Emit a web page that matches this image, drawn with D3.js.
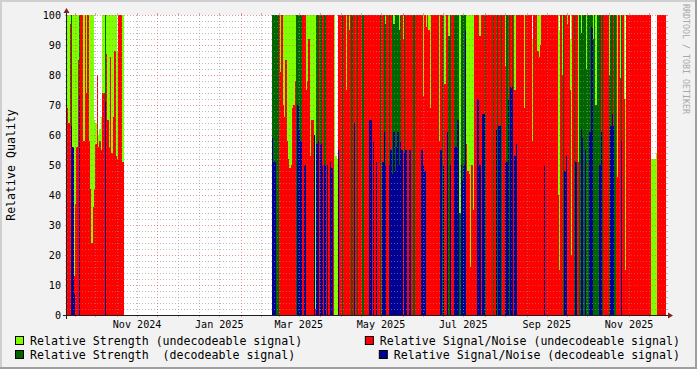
<!DOCTYPE html>
<html>
<head>
<meta charset="utf-8">
<script src="https://cdn.jsdelivr.net/npm/d3@7"></script>
<style>
  body { margin: 0; background: #f2f2f2; }
  svg text { font-family: "DejaVu Sans Mono", monospace; }
</style>
</head>
<body>
<script>
var fullWidth = 697,
    fullHeight = 369,
    plot = {left: 67, right: 666, top: 15, bottom: 315};

// daily averages, two recording periods
var autumnStart = "2024-09-25";
var autumnStrengthUndec = [100,100,100,0,100,100,100,100,100,0,
  100,100,100,100,100,100,100,100,100,100,
  65,64,80,60,62,66,100,100,0,100,
  100,100,100,100,100,100,100,88,100,100,
  100,100];
var autumnSnrUndec = [69,64,97,0,0,13,37,56,85,0,
  100,100,58,100,74,100,58,42,24,36,
  42,57,80,56,58,55,74,74,0,87,
  65,56,86,54,66,88,53,52,100,100,
  100,51];
var autumnStrengthDec = [0,0,0,100,0,0,0,0,0,100,
  0,0,0,0,0,0,0,0,0,0,
  0,0,0,0,0,0,0,0,100,0,
  0,0,0,0,0,0,0,0,0,0,
  0,0];
var autumnSnrDec = [0,0,0,63,56,7,0,0,0,73,
  0,0,0,0,0,0,0,0,0,0,
  0,0,0,0,0,0,0,0,71,0,
  0,0,0,0,0,0,0,0,0,0,
  0,0];

var springStart = "2025-02-24";
var springStrengthUndec = [0,0,0,0,0,100,100,100,100,100,
  100,100,100,100,100,100,100,100,0,0,
  0,0,100,100,0,100,100,100,100,100,
  100,100,100,0,0,0,0,0,0,0,
  0,0,0,0,0,0,100,53,52,0,
  0,0,0,0,0,100,0,100,0,0,
  0,0,0,0,0,0,0,0,0,0,
  0,0,0,0,0,0,0,0,0,0,
  0,0,0,0,100,0,0,0,0,0,
  100,0,0,0,100,0,0,100,0,0,
  0,0,0,0,0,0,0,0,0,0,
  0,0,100,0,100,0,100,100,0,0,
  0,0,0,0,100,0,0,0,100,0,
  0,100,0,0,0,0,0,0,0,100,
  0,0,0,0,100,100,100,100,100,100,
  100,0,0,0,100,0,0,0,0,0,
  0,0,0,0,0,0,0,0,0,0,
  0,0,0,100,0,0,0,0,0,0,
  100,0,0,0,0,0,0,100,0,0,
  0,0,0,92,0,0,0,100,100,100,
  0,0,0,0,0,0,0,0,0,0,
  0,0,100,95,0,100,0,0,0,100,
  0,92,100,0,0,0,0,100,0,100,
  0,0,0,100,0,0,0,0,100,0,
  100,0,0,0,0,0,0,0,0,0,
  100,0,0,0,0,0,100,0,100,0,
  0,100,72,0,0,0,0,0,0,0,
  0,0,0,0,0,0,0,0,0,0,
  0,52,52,52,52,54,0,0,0,0,
  0,0,0];
var springSnrUndec = [0,0,0,0,0,100,81,100,70,66,
  85,58,52,49,50,69,70,78,0,0,
  0,0,100,100,100,75,78,92,53,65,
  65,0,2,0,0,100,0,100,100,0,
  100,100,100,100,100,100,0,0,0,100,
  100,100,0,100,100,75,100,95,100,0,
  100,100,100,0,100,100,100,0,100,100,
  100,100,100,100,100,100,100,100,100,100,
  0,100,100,0,0,100,100,0,100,0,
  0,0,0,0,0,0,100,92,0,100,
  100,100,100,100,100,0,100,100,100,100,
  100,100,73,100,96,100,95,69,100,100,
  100,100,100,100,58,100,0,100,77,100,
  100,0,0,100,100,0,0,0,0,0,
  0,0,0,0,57,48,47,16,50,35,
  100,100,100,100,93,100,100,100,0,100,
  100,100,100,100,0,100,100,0,100,100,
  0,100,100,83,0,100,0,100,0,100,
  75,100,100,100,100,100,100,69,100,100,
  100,100,100,58,100,100,100,88,86,90,
  100,100,100,100,100,100,100,100,100,100,
  100,100,40,15,100,80,0,100,100,97,
  100,75,20,100,0,100,100,51,0,0,
  0,0,0,0,0,0,0,0,0,0,
  0,0,0,0,100,0,100,100,100,100,
  0,0,0,100,0,100,46,100,79,0,
  100,72,15,100,100,100,100,100,100,100,
  100,100,100,100,100,100,100,100,100,100,
  100,0,0,0,0,0,100,100,100,100,
  100,100,100];
var springStrengthDec = [100,100,100,100,100,0,0,0,0,0,
  0,0,0,0,0,0,0,0,100,100,
  100,100,0,0,0,0,0,0,0,0,
  0,0,0,100,100,0,100,0,0,100,
  0,0,0,0,0,0,0,0,0,0,
  0,0,100,0,0,0,0,0,0,100,
  0,0,0,100,0,0,0,100,0,0,
  0,0,0,0,0,0,0,0,0,0,
  100,0,0,100,97,0,0,100,0,100,
  97,100,100,100,95,100,0,0,100,0,
  0,0,0,0,0,100,0,0,0,0,
  0,0,0,0,0,0,0,0,0,0,
  0,0,0,0,0,0,100,0,0,0,
  0,93,100,0,0,100,100,100,100,34,
  100,100,100,100,0,0,0,0,0,0,
  0,0,0,0,0,0,0,0,100,0,
  0,0,0,0,100,0,0,100,0,0,
  100,0,0,0,100,0,100,0,100,0,
  0,0,0,0,0,0,0,0,0,0,
  0,0,0,0,0,0,0,0,0,0,
  0,0,0,0,0,0,0,0,0,0,
  0,0,0,0,0,0,100,0,0,0,
  0,0,0,0,100,0,0,0,100,94,
  100,100,100,82,100,100,100,100,92,100,
  70,100,100,100,0,100,0,0,0,0,
  80,100,100,0,100,0,0,0,0,100,
  0,0,0,0,0,0,0,0,0,0,
  0,0,0,0,0,0,0,0,0,0,
  0,0,0,0,0,0,0,0,0,0,
  0,0,0];
var springSnrDec = [59,51,51,0,0,0,0,0,0,0,
  0,0,0,0,0,0,0,0,0,70,
  62,58,0,0,50,0,0,0,0,0,
  0,60,0,57,58,0,57,50,0,50,
  0,50,0,51,49,0,0,0,0,55,
  0,0,0,0,0,0,0,0,0,0,
  0,64,0,0,0,0,0,0,0,0,
  0,0,65,65,0,58,0,51,0,0,
  0,0,51,61,50,0,0,50,55,47,
  61,48,56,61,50,58,55,0,54,55,
  0,0,55,0,0,0,0,0,0,0,
  0,55,50,48,0,0,0,0,0,0,
  0,0,0,0,0,55,0,50,0,0,
  61,0,50,0,0,56,56,65,65,0,
  50,45,50,95,0,0,0,0,0,0,
  0,0,72,72,50,0,67,67,0,0,
  0,0,0,0,0,0,62,0,63,63,
  0,0,0,51,51,72,0,76,76,0,
  53,57,0,0,0,0,0,0,0,0,
  0,0,0,0,0,0,0,0,0,0,
  0,0,50,0,0,0,0,0,0,0,
  0,0,0,0,0,0,0,48,53,0,
  0,0,0,0,0,51,0,0,0,62,
  59,0,55,0,0,61,61,96,0,0,
  0,0,0,50,61,0,0,0,0,0,
  0,63,67,63,0,0,0,0,0,58,
  0,0,0,0,0,0,0,0,0,0,
  0,0,0,0,0,0,0,0,0,0,
  0,0,0,0,0,0,0,0,0,0,
  0,0,0];

var graphStart = "2024-09-25T00:00:00Z",
    graphEnd   = "2025-12-13T09:36:00Z";

var yTicks = [0, 10, 20, 30, 40, 50, 60, 70, 80, 90, 100];
var xLabelMonths = ["2024-11-01", "2025-01-01", "2025-03-01", "2025-05-01",
                    "2025-07-01", "2025-09-01", "2025-11-01"];
var xLabels = ["Nov 2024", "Jan 2025", "Mar 2025", "May 2025",
               "Jul 2025", "Sep 2025", "Nov 2025"];

var seriesNames = ["Relative Strength (undecodeable signal)",
                   "Relative Signal/Noise (undecodeable signal)",
                   "Relative Strength  (decodeable signal)",
                   "Relative Signal/Noise (decodeable signal)"];
var seriesColors = ["#80ff00", "#ff0000", "#006600", "#000094"];

var DAY = 86400000;
var parseDay = function(s) { return new Date(s + "T00:00:00Z"); };

var xScale = d3.scaleUtc()
  .domain([new Date(graphStart), new Date(graphEnd)])
  .range([plot.left, plot.right]);

var yScale = d3.scaleLinear()
  .domain([0, 100])
  .range([plot.bottom, plot.top]);

// build one row per day and series, in RRD draw order
var periods = [
  {start: autumnStart, series: [autumnStrengthUndec, autumnSnrUndec, autumnStrengthDec, autumnSnrDec]},
  {start: springStart, series: [springStrengthUndec, springSnrUndec, springStrengthDec, springSnrDec]}
];
var layers = seriesColors.map(function(c, k) {
  var rows = [];
  periods.forEach(function(p) {
    var t0 = parseDay(p.start).getTime();
    p.series[k].forEach(function(v, i) {
      if (v > 0) rows.push({d0: new Date(t0 + i * DAY), d1: new Date(t0 + (i + 1) * DAY), v: v});
    });
  });
  return rows;
});

var svg = d3.select("body").append("svg")
  .attr("width", fullWidth)
  .attr("height", fullHeight)
  .style("display", "block");

svg.append("rect")
  .attr("width", fullWidth).attr("height", fullHeight)
  .attr("fill", "#f2f2f2");

// 3d frame
svg.append("path").attr("d", "M0,0H697V2H2V369H0Z").attr("fill", "#cfcfcf");
svg.append("path").attr("d", "M697,0V369H0V367H695V0Z").attr("fill", "#9e9e9e");

svg.append("rect")
  .attr("x", plot.left).attr("y", plot.top)
  .attr("width", plot.right - plot.left).attr("height", plot.bottom - plot.top)
  .attr("fill", "#ffffff");

svg.append("clipPath").attr("id", "plotclip")
  .append("rect")
  .attr("x", plot.left).attr("y", plot.top)
  .attr("width", plot.right - plot.left).attr("height", plot.bottom - plot.top);

var dataG = svg.append("g")
  .attr("clip-path", "url(#plotclip)")
  .attr("shape-rendering", "crispEdges");

layers.forEach(function(rows, k) {
  dataG.append("g")
    .attr("fill", seriesColors[k])
    .selectAll("rect")
    .data(rows)
    .enter().append("rect")
    .attr("x", function(d) { return Math.round(xScale(d.d0)); })
    .attr("width", function(d) { return Math.round(xScale(d.d1)) - Math.round(xScale(d.d0)); })
    .attr("y", function(d) { return Math.round(yScale(d.v)); })
    .attr("height", function(d) { return plot.bottom - Math.round(yScale(d.v)); });
});

// grid on top of the graph
var minorCol = "rgba(143,143,143,0.6)",
    majorCol = "rgba(222,79,79,0.6)";
var gridG = svg.append("g").attr("shape-rendering", "crispEdges");

var hLines = d3.range(0, 101, 2).map(function(v) { return {v: v, major: v % 10 === 0}; });
hLines.forEach(function(h) {
  var y = Math.round(yScale(h.v)) + 0.5,
      c = h.major ? majorCol : minorCol;
  gridG.append("line").attr("x1", plot.left).attr("x2", plot.right).attr("y1", y).attr("y2", y)
    .attr("stroke", c).attr("stroke-dasharray", "1,2");
  gridG.append("line").attr("x1", plot.left - 2).attr("x2", plot.left).attr("y1", y).attr("y2", y).attr("stroke", c);
  gridG.append("line").attr("x1", plot.right).attr("x2", plot.right + 2).attr("y1", y).attr("y2", y).attr("stroke", c);
});

// minor lines on the 1st and 16th, major lines every second month
var d0 = xScale.domain()[0], d1 = xScale.domain()[1];
var halfMonths = d3.utcMonth.range(d0, d1).concat(
  d3.utcMonth.range(d0, d1).map(function(m) { return new Date(m.getTime() + 15 * DAY); })
).filter(function(m) { return m >= d0 && m <= d1 && !(m.getUTCDate() === 1 && m.getUTCMonth() % 2 === 1); });
var majorMonths = d3.utcMonth.range(d0, d1).filter(function(m) { return m.getUTCMonth() % 2 === 1; });

function vLine(date, c) {
  var x = Math.round(xScale(date)) + 0.5;
  gridG.append("line").attr("x1", x).attr("x2", x).attr("y1", plot.top).attr("y2", plot.bottom)
    .attr("stroke", c).attr("stroke-dasharray", "1,2");
  gridG.append("line").attr("x1", x).attr("x2", x).attr("y1", plot.top - 2).attr("y2", plot.top).attr("stroke", c);
  gridG.append("line").attr("x1", x).attr("x2", x).attr("y1", plot.bottom).attr("y2", plot.bottom + 2).attr("stroke", c);
}
halfMonths.forEach(function(w) { vLine(w, minorCol); });
majorMonths.forEach(function(m) { vLine(m, majorCol); });

// axes and arrows
var axisCol = "#1f1f1f", arrowCol = "#801f1f";
svg.append("line").attr("x1", plot.left - 4).attr("x2", plot.right + 4)
  .attr("y1", plot.bottom + 0.5).attr("y2", plot.bottom + 0.5)
  .attr("stroke", axisCol).attr("shape-rendering", "crispEdges");
svg.append("line").attr("x1", plot.left - 0.5).attr("x2", plot.left - 0.5)
  .attr("y1", plot.bottom + 4).attr("y2", plot.top - 4)
  .attr("stroke", axisCol).attr("shape-rendering", "crispEdges");
svg.append("path")
  .attr("d", "M" + (plot.right + 2) + "," + (plot.bottom - 2.5) + "L" + (plot.right + 2) + "," + (plot.bottom + 3.5) +
             "L" + (plot.right + 7) + "," + (plot.bottom + 0.5) + "Z")
  .attr("fill", arrowCol);
svg.append("path")
  .attr("d", "M" + (plot.left - 3.5) + "," + (plot.top - 2) + "L" + (plot.left + 2.5) + "," + (plot.top - 2) +
             "L" + (plot.left - 0.5) + "," + (plot.top - 7) + "Z")
  .attr("fill", arrowCol);

// tick labels
svg.append("g").selectAll("text")
  .data(yTicks)
  .enter().append("text")
  .attr("x", plot.left - 6)
  .attr("y", function(d) { return yScale(d); })
  .attr("dy", "0.35em")
  .attr("text-anchor", "end")
  .attr("font-size", "10.1px")
  .attr("fill", "#000")
  .text(function(d) { return d; });

svg.append("g").selectAll("text")
  .data(xLabelMonths)
  .enter().append("text")
  .attr("x", function(d) { return xScale(new Date(parseDay(d).getTime() + 15 * DAY)); })
  .attr("y", plot.bottom + 13)
  .attr("text-anchor", "middle")
  .attr("font-size", "10.1px")
  .attr("fill", "#000")
  .text(function(d, i) { return xLabels[i]; });

svg.append("text")
  .attr("transform", "translate(15," + ((plot.top + plot.bottom) / 2) + ") rotate(-90)")
  .attr("text-anchor", "middle")
  .attr("font-size", "11.6px")
  .attr("fill", "#000")
  .text("Relative Quality");

svg.append("text")
  .attr("transform", "translate(683,4) rotate(90)")
  .attr("font-size", "8.3px")
  .attr("fill", "#a8a8a8")
  .text("RRDTOOL / TOBI OETIKER");

// legend: left column starts at 30, right column right-justified at 680
var legendRows = [341, 355];
seriesNames.forEach(function(name, k) {
  var row = legendRows[Math.floor(k / 2)],
      right = k % 2 === 1;
  var t = svg.append("text")
    .attr("x", right ? 680 : 30)
    .attr("y", row)
    .attr("dy", "0.35em")
    .attr("text-anchor", right ? "end" : "start")
    .attr("font-size", "11.6px")
    .attr("fill", "#000")
    .style("white-space", "pre")
    .text(name);
  var tx = right ? 680 - t.node().getComputedTextLength() : 30;
  svg.append("rect")
    .attr("x", tx - 14.5).attr("y", row - 4.5)
    .attr("width", 8).attr("height", 8)
    .attr("fill", seriesColors[k])
    .attr("stroke", "#000").attr("stroke-width", 1);
});
</script>
</body>
</html>
